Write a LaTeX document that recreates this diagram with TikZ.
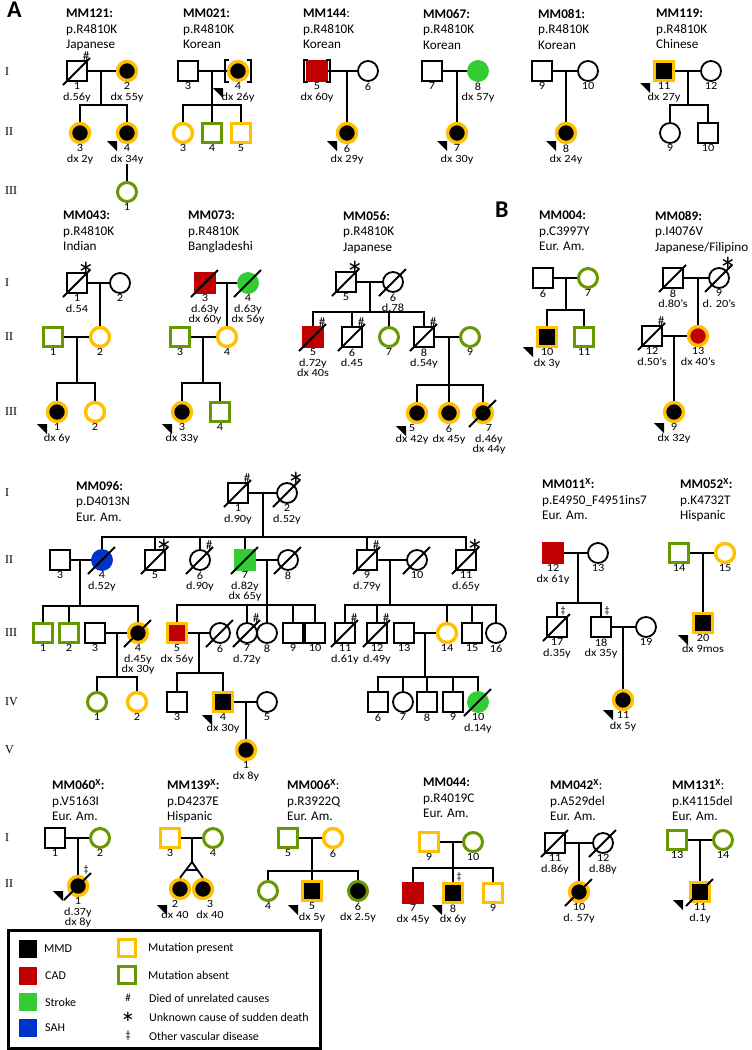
\documentclass[tikz,border=0pt]{standalone}
\usepackage{fontspec}
\setmainfont{Carlito}
\newfontfamily\romfont{Liberation Serif}
\newfontfamily\labfont[FakeStretch=1.12]{Carlito}
\newfontfamily\djv{DejaVu Sans}
\usetikzlibrary{calc}
\definecolor{mutO}{HTML}{FFC000}
\definecolor{mutG}{HTML}{669900}
\definecolor{cadR}{HTML}{C00000}
\definecolor{strG}{HTML}{33CC33}
\definecolor{sahB}{HTML}{0033CC}
\tikzset{
 ind/.style={minimum size=20pt, inner sep=0pt, line width=1.8pt, draw=black, fill=white},
 male/.style={ind, rectangle},
 female/.style={ind, circle},
 mp/.style={draw=mutO, line width=3.4pt, minimum size=19pt},
 ma/.style={draw=mutG, line width=3pt, minimum size=19pt},
 mmd/.style={fill=black},
 cad/.style={fill=cadR, draw=cadR, line width=0.8pt, minimum size=21pt},
 strk/.style={fill=strG, draw=strG, line width=0.8pt, minimum size=21pt},
 sah/.style={fill=sahB, draw=sahB, line width=0.8pt, minimum size=21pt},
 conn/.style={line width=1.8pt},
 lab/.style={font=\labfont\fontsize{11}{10.5}\selectfont, align=center, inner sep=0pt, anchor=north},
 ttl/.style={font=\fontsize{13.2}{15.5}\selectfont, align=left, anchor=north west, inner sep=0pt},
 gen/.style={font=\romfont\fontsize{12}{12}\selectfont, anchor=west, inner sep=0pt},
 symb/.style={font=\fontsize{13}{13}\selectfont, inner sep=0pt},
 ast/.style={font=\djv\fontsize{18}{18}\selectfont, inner sep=0pt},
 big/.style={font=\bfseries\fontsize{24}{24}\selectfont, anchor=north west, inner sep=0pt},
 legt/.style={font=\fontsize{12}{12}\selectfont, anchor=west, inner sep=0pt},
}
\newcommand{\pdead}[1]{\draw[conn] ([shift={(-14,14)}]#1.center) -- ([shift={(13,-13)}]#1.center);}
\newcommand{\psym}[2]{\node[symb] (#1s) at ([shift={(9,-14.5)}]#1.center) {#2};}
\newcommand{\past}[1]{\node[ast] (#1s) at ([shift={(9,-15)}]#1.center) {∗};}
\newcommand{\plab}[2]{\node[lab] (#1l) at ([shift={(0,11.5)}]#1.center) {#2};}
\newcommand{\pprob}[2][-20,8]{\fill ([shift={(#1)}]#2.center) -- ++(10,0) -- ++(0,10) -- cycle;}
\newcommand{\pbrk}[1]{\draw[conn] ([shift={(-9,-11)}]#1.center) -- ++(-4,0) -- ++(0,22) -- ++(4,0); \draw[conn] ([shift={(9,-11)}]#1.center) -- ++(4,0) -- ++(0,22) -- ++(-4,0);}
\begin{document}
\begin{tikzpicture}[x=1pt,y=-1pt]
\useasboundingbox (0,0) rectangle (752,1050);
\fill[white] (0,0) rectangle (752,1050);

\node[big] (lA) at (7,2) {A};
\node[big] (lB) at (495,202) {B};

% ================= Row 1 =================
\node[gen] (r1a) at (5,72) {I};
\node[gen] (r1b) at (5,132) {II};
\node[gen] (r1c) at (5,191) {III};

% MM121
\node[ttl] (T121) at (66,9) {\textbf{MM121:}\\p.R4810K\\Japanese};
\node[male] (a1) at (77,71) {};
\node[female,mp,mmd] (a2) at (127,71) {};
\node[female,mp,mmd] (a3) at (80,133) {};
\node[female,mp,mmd] (a4) at (127,133) {};
\node[female,ma] (a5) at (127,192) {};
\coordinate (am) at (101,71); \coordinate (as) at (101,105);
\draw[conn] (a1) -- (a2);
\draw[conn] (am) -- (as);
\draw[conn] (a3.north) |- (as) -| (a4.north);
\pdead{a1} \psym{a1}{\#}
\plab{a1}{1\\d.56y} \plab{a2}{2\\dx 55y} \plab{a3}{3\\dx 2y} \plab{a4}{4\\dx 34y} \plab{a5}{1}
\draw[conn] (a4l.south) -- (a5.north);
\pprob{a4}

% MM021
\node[ttl] (T021) at (183,9) {\textbf{MM021:}\\p.R4810K\\Korean};
\node[male] (b1) at (188,71) {};
\node[female,mp,mmd] (b2) at (238,71) {};
\node[female,mp] (b3) at (183,133) {};
\node[male,ma] (b4) at (212,133) {};
\node[male,mp] (b5) at (241,133) {};
\coordinate (bm) at (212,71); \coordinate (bs) at (212,105);
\draw[conn] (b1) -- (b2);
\draw[conn] (bm) -- (b4.north);
\draw[conn] (b3.north) |- (bs) -| (b5.north);
\pbrk{b2}
\plab{b1}{3} \plab{b2}{4\\dx 26y} \plab{b3}{3} \plab{b4}{4} \plab{b5}{5}
\pprob[-25,17]{b2}

% MM144
\node[ttl] (T144) at (303,9) {\textbf{MM144}:\\p.R4810K\\Korean};
\node[male,cad] (c1) at (317,71) {};
\node[female] (c2) at (368,71) {};
\node[female,mp,mmd] (c3) at (347,133) {};
\coordinate (cm) at (347,71);
\draw[conn] (c1) -- (c2);
\draw[conn] (cm) -- (c3);
\pbrk{c1}
\plab{c1}{5\\dx 60y} \plab{c2}{6} \plab{c3}{6\\dx 29y}
\pprob{c3}

% MM067
\node[ttl] (T067) at (423,9) {\textbf{MM067:}\\p.R4810K\\Korean};
\node[male] (d1) at (432,71) {};
\node[female,strk] (d2) at (478,71) {};
\node[female,mp,mmd] (d3) at (457,133) {};
\coordinate (dm) at (457,71);
\draw[conn] (d1) -- (d2);
\draw[conn] (dm) -- (d3);
\plab{d1}{7} \plab{d2}{8\\dx 57y} \plab{d3}{7\\dx 30y}
\pprob{d3}

% MM081
\node[ttl] (T081) at (538,9) {\textbf{MM081:}\\p.R4810K\\Korean};
\node[male] (e1) at (542,71) {};
\node[female] (e2) at (588,71) {};
\node[female,mp,mmd] (e3) at (566,133) {};
\coordinate (em) at (566,71);
\draw[conn] (e1) -- (e2);
\draw[conn] (em) -- (e3);
\plab{e1}{9} \plab{e2}{10} \plab{e3}{8\\dx 24y}
\pprob{e3}

% MM119
\node[ttl] (T119) at (656,9) {\textbf{MM119:}\\p.R4810K\\Chinese};
\node[male,mp,mmd] (f1) at (664,71) {};
\node[female] (f2) at (711,71) {};
\node[female] (f3) at (670,133) {};
\node[male] (f4) at (708,133) {};
\coordinate (fm) at (688,71); \coordinate (fs) at (688,105);
\draw[conn] (f1) -- (f2);
\draw[conn] (fm) -- (fs);
\draw[conn] (f3.north) |- (fs) -| (f4.north);
\plab{f1}{11\\dx 27y} \plab{f2}{12} \plab{f3}{9} \plab{f4}{10}
\pprob[-24,12]{f1}

% ================= Row 2 =================
\node[gen] (r2a) at (5,283) {I};
\node[gen] (r2b) at (5,337) {II};
\node[gen] (r2c) at (5,412) {III};

% MM043
\node[ttl] (T043) at (63,211) {\textbf{MM043:}\\p.R4810K\\Indian};
\node[male] (g1) at (77,283) {};
\node[female] (g2) at (120,283) {};
\node[male,ma] (g3) at (53,337) {};
\node[female,mp] (g4) at (100,337) {};
\node[female,mp,mmd] (g5) at (57,412) {};
\node[female,mp] (g6) at (95,412) {};
\coordinate (gm) at (100,283);
\coordinate (gm2) at (77,337); \coordinate (gs) at (77,383);
\draw[conn] (g1) -- (g2);
\draw[conn] (gm) -- (g4);
\draw[conn] (g3) -- (g4);
\draw[conn] (gm2) -- (gs);
\draw[conn] (g5.north) |- (gs) -| (g6.north);
\pdead{g1} \past{g1}
\plab{g1}{1\\d.54} \plab{g2}{2} \plab{g3}{1} \plab{g4}{2} \plab{g5}{1\\dx 6y} \plab{g6}{2}
\pprob[-20,12]{g5}

% MM073
\node[ttl] (T073) at (188,211) {\textbf{MM073:}\\p.R4810K\\Bangladeshi};
\node[male,cad] (h1) at (205,283) {};
\node[female,strk] (h2) at (248,283) {};
\node[male,ma] (h3) at (180,337) {};
\node[female,mp] (h4) at (227,337) {};
\node[female,mp,mmd] (h5) at (182,412) {};
\node[male,ma] (h6) at (220,412) {};
\coordinate (hm) at (227,283);
\coordinate (hm2) at (203,337); \coordinate (hs) at (203,383);
\draw[conn] (h1) -- (h2);
\draw[conn] (hm) -- (h4);
\draw[conn] (h3) -- (h4);
\draw[conn] (hm2) -- (hs);
\draw[conn] (h5.north) |- (hs) -| (h6.north);
\pdead{h1} \pdead{h2}
\plab{h1}{3\\d.63y\\dx 60y} \plab{h2}{4\\d.63y\\dx 56y} \plab{h3}{3} \plab{h4}{4} \plab{h5}{3\\dx 33y} \plab{h6}{4}
\pprob[-20,12]{h5}

% MM056
\node[ttl] (T056) at (343,211) {\textbf{MM056:}\\p.R4810K\\Japanese};
\node[male] (i1) at (346,282) {};
\node[female] (i2) at (393,282) {};
\node[male,cad] (i3) at (313,337) {};
\node[male] (i4) at (352,337) {};
\node[female,ma] (i5) at (389,337) {};
\node[male] (i6) at (424,337) {};
\node[female,ma] (i7) at (470,337) {};
\node[female,mp,mmd] (i8) at (417,413) {};
\node[female,mp,mmd] (i9) at (449,413) {};
\node[female,mp,mmd] (i10) at (483,413) {};
\coordinate (im) at (370,282); \coordinate (is) at (370,312);
\coordinate (im2) at (449,337); \coordinate (is2) at (449,385);
\draw[conn] (i1) -- (i2);
\draw[conn] (im) -- (is);
\draw[conn] (i3.north) |- (is) -| (i6.north);
\draw[conn] (is -| i4) -- (i4.north);
\draw[conn] (is -| i5) -- (i5.north);
\draw[conn] (i6) -- (i7);
\draw[conn] (im2) -- (is2);
\draw[conn] (i8.north) |- (is2) -| (i10.north);
\draw[conn] (is2) -- (i9.north);
\pdead{i1} \past{i1} \pdead{i2}
\pdead{i3} \psym{i3}{\#} \pdead{i4} \psym{i4}{\#} \pdead{i6} \psym{i6}{\#}
\pdead{i10}
\plab{i1}{5} \plab{i2}{6\\d.78} \plab{i3}{5\\d.72y\\dx 40s} \plab{i4}{6\\d.45} \plab{i5}{7} \plab{i6}{8\\d.54y} \plab{i7}{9}
\node[lab] (i8l) at (412,424.5) {5\\dx 42y};
\plab{i9}{6\\dx 45y}
\node[lab] (i10l) at (489,424.5) {7\\d.46y\\dx 44y};
\pprob[-21,13]{i8}

% MM004
\node[ttl] (T004) at (539,211) {\textbf{MM004:}\\p.C3997Y\\Eur. Am.};
\node[male] (j1) at (543,278) {};
\node[female,ma] (j2) at (588,278) {};
\node[male,mp,mmd] (j3) at (547,337) {};
\node[male,ma] (j4) at (584,337) {};
\coordinate (jm) at (566,278); \coordinate (js) at (566,310);
\draw[conn] (j1) -- (j2);
\draw[conn] (jm) -- (js);
\draw[conn] (j3.north) |- (js) -| (j4.north);
\plab{j1}{6} \plab{j2}{7} \plab{j3}{10\\dx 3y} \plab{j4}{11}
\pprob[-24,10]{j3}

% MM089
\node[ttl] (T089) at (655,211) {\textbf{MM089:}\\p.I4076V\\Japanese/Filipino};
\node[male] (k1) at (673,278) {};
\node[female] (k2) at (719,278) {};
\node[male] (k3) at (652,336) {};
\node[female,mp,fill=cadR] (k4) at (698,336) {};
\node[female,mp,mmd] (k5) at (674,412) {};
\coordinate (km) at (698,278); \coordinate (km2) at (674,336);
\draw[conn] (k1) -- (k2);
\draw[conn] (km) -- (k4);
\draw[conn] (k3) -- (k4);
\draw[conn] (km2) -- (k5);
\pdead{k1} \pdead{k2} \past{k2} \pdead{k3} \psym{k3}{\#}
\plab{k1}{8\\d.80’s} \plab{k2}{9\\d. 20’s} \plab{k3}{12\\d.50’s} \plab{k4}{13\\dx 40’s} \plab{k5}{9\\dx 32y}
\pprob[-20,11]{k5}

% ================= Row 3: MM096 =================
\node[gen] (r3a) at (5,493) {I};
\node[gen] (r3b) at (5,560) {II};
\node[gen] (r3c) at (5,633) {III};
\node[gen] (r3d) at (5,702) {IV};
\node[gen] (r3e) at (5,750) {V};

\node[ttl] (T096) at (76,481) {\textbf{MM096:}\\p.D4013N\\Eur. Am.};
\node[male] (n1) at (238,493) {};
\node[female] (n2) at (287,493) {};
\node[male] (n3) at (60,560) {};
\node[female,sah] (n4) at (102,560) {};
\node[male] (n5) at (155,560) {};
\node[female] (n6) at (200,560) {};
\node[male,strk] (n7) at (245,560) {};
\node[female] (n8) at (288,560) {};
\node[male] (n9) at (367,560) {};
\node[female] (n10) at (417,560) {};
\node[male] (n11) at (466,560) {};
\coordinate (nm) at (263,493); \coordinate (ns) at (263,537);
\draw[conn] (n1) -- (n2);
\draw[conn] (nm) -- (ns);
\draw[conn] (n4.north) |- (ns) -| (n11.north);
\draw[conn] (ns -| n5) -- (n5.north);
\draw[conn] (ns -| n6) -- (n6.north);
\draw[conn] (ns -| n7) -- (n7.north);
\draw[conn] (ns -| n9) -- (n9.north);
\draw[conn] (n3) -- (n4);
\draw[conn] (n7) -- (n8);
\draw[conn] (n9) -- (n10);
\pdead{n1} \psym{n1}{\#} \pdead{n2} \past{n2}
\pdead{n4} \pdead{n5} \past{n5} \pdead{n6} \psym{n6}{\#} \pdead{n7} \pdead{n8}
\pdead{n9} \psym{n9}{\#} \pdead{n10} \pdead{n11} \past{n11}
\plab{n1}{1\\d.90y} \plab{n2}{2\\d.52y} \plab{n3}{3} \plab{n4}{4\\d.52y} \plab{n5}{5} \plab{n6}{6\\d.90y}
\plab{n7}{7\\d.82y\\dx 65y} \plab{n8}{8} \plab{n9}{9\\d.79y} \plab{n10}{10} \plab{n11}{11\\d.65y}

% generation III, left branch
\node[male,ma] (o1) at (43,633) {};
\node[male,ma] (o2) at (69,633) {};
\node[male] (o3) at (95,633) {};
\node[female,mp,mmd] (o4) at (138,633) {};
\coordinate (om1) at (80,560); \coordinate (os1) at (80,606);
\draw[conn] (om1) -- (os1);
\draw[conn] (o1.north) |- (os1) -| (o4.north);
\draw[conn] (os1 -| o2) -- (o2.north);
\draw[conn] (o3) -- (o4);
\pdead{o4}
\plab{o1}{1} \plab{o2}{2} \plab{o3}{3} \plab{o4}{4\\d.45y\\dx 30y}
\node[female,ma] (p1) at (97,702) {};
\node[female,mp] (p2) at (137,702) {};
\coordinate (pm1) at (117,633); \coordinate (ps1) at (117,677);
\draw[conn] (pm1) -- (ps1);
\draw[conn] (p1.north) |- (ps1) -| (p2.north);
\plab{p1}{1} \plab{p2}{2}

% generation III, middle branch
\node[male,mp,fill=cadR] (o5) at (177,633) {};
\node[female] (o6) at (220,633) {};
\node[female] (o7) at (247,633) {};
\node[female] (o8) at (267,633) {};
\node[male] (o9) at (293,633) {};
\node[male] (o10) at (315,633) {};
\coordinate (om2) at (267,560); \coordinate (os2) at (267,605);
\draw[conn] (om2) -- (os2);
\draw[conn] (o5.north) |- (os2) -| (o10.north);
\draw[conn] (os2 -| o7) -- (o7.north);
\draw[conn] (os2) -- (o8.north);
\draw[conn] (os2 -| o9) -- (o9.north);
\draw[conn] (o5) -- (o6);
\pdead{o6} \pdead{o7} \psym{o7}{\#}
\plab{o5}{5\\dx 56y} \plab{o6}{6} \plab{o7}{7\\d.72y} \plab{o8}{8} \plab{o9}{9} \plab{o10}{10}
\node[male] (p3) at (177,702) {};
\node[male,mp,mmd] (p4) at (223,702) {};
\node[female] (p5) at (267,702) {};
\coordinate (pm2) at (199,633); \coordinate (ps2) at (199,673);
\draw[conn] (pm2) -- (ps2);
\draw[conn] (p3.north) |- (ps2) -| (p4.north);
\draw[conn] (p4) -- (p5);
\plab{p3}{3} \plab{p4}{4\\dx 30y} \plab{p5}{5}
\pprob[-21,13]{p4}
\node[female,mp,mmd] (q1) at (246,750) {};
\coordinate (qm) at (246,702);
\draw[conn] (qm) -- (q1);
\plab{q1}{1\\dx 8y}

% generation III, right branch
\node[male] (o11) at (345,633) {};
\node[male] (o12) at (377,633) {};
\node[male] (o13) at (404,633) {};
\node[female,mp] (o14) at (447,633) {};
\node[male] (o15) at (472,633) {};
\node[female] (o16) at (496,633) {};
\coordinate (om3) at (390,560); \coordinate (os3) at (390,605);
\draw[conn] (om3) -- (os3);
\draw[conn] (o11.north) |- (os3) -| (o16.north);
\draw[conn] (os3 -| o12) -- (o12.north);
\draw[conn] (os3 -| o14) -- (o14.north);
\draw[conn] (os3 -| o15) -- (o15.north);
\draw[conn] (o13) -- (o14);
\pdead{o11} \psym{o11}{\#} \pdead{o12} \psym{o12}{\#}
\plab{o11}{11\\d.61y} \plab{o12}{12\\d.49y} \plab{o13}{13} \plab{o14}{14} \plab{o15}{15} \plab{o16}{16}
\node[male] (p6) at (378,702) {};
\node[female] (p7) at (403,702) {};
\node[male] (p8) at (427,702) {};
\node[male] (p9) at (453,702) {};
\node[female,strk] (p10) at (478,702) {};
\coordinate (pm3) at (425,633); \coordinate (ps3) at (425,677);
\draw[conn] (pm3) -- (ps3);
\draw[conn] (p6.north) |- (ps3) -| (p10.north);
\draw[conn] (ps3 -| p7) -- (p7.north);
\draw[conn] (ps3 -| p8) -- (p8.north);
\draw[conn] (ps3 -| p9) -- (p9.north);
\pdead{p10}
\plab{p6}{6} \plab{p7}{7} \plab{p8}{8} \plab{p9}{9} \plab{p10}{10\\d.14y}

% MM011
\node[ttl] (T011) at (542,478) {\textbf{MM011\textsuperscript{X}:}\\p.E4950\_F4951ins7\\Eur. Am.};
\node[male,cad] (s1) at (553,553) {};
\node[female] (s2) at (598,553) {};
\node[male] (s3) at (557,627) {};
\node[male] (s4) at (601,627) {};
\node[female] (s5) at (646,627) {};
\node[female,mp,mmd] (s6) at (623,700) {};
\coordinate (sm) at (578,553); \coordinate (ss) at (578,603);
\coordinate (sm2) at (623,627);
\draw[conn] (s1) -- (s2);
\draw[conn] (sm) -- (ss);
\draw[conn] (s3.north) |- (ss) -| (s4.north);
\draw[conn] (s4) -- (s5);
\draw[conn] (sm2) -- (s6);
\pdead{s3}
\node[symb,font=\fontsize{10}{10}\selectfont] (s3s) at ([shift={(6,-16)}]s3.center) {‡};
\node[symb,font=\fontsize{10}{10}\selectfont] (s4s) at ([shift={(6,-16)}]s4.center) {‡};
\plab{s1}{12\\dx 61y} \plab{s2}{13} \plab{s3}{17\\d.35y} \plab{s4}{18\\dx 35y} \plab{s5}{19} \plab{s6}{11\\dx 5y}
\pprob[-20,10]{s6}

% MM052
\node[ttl] (T052) at (680,478) {\textbf{MM052\textsuperscript{X}:}\\p.K4732T\\Hispanic};
\node[male,ma] (t1) at (679,553) {};
\node[female,mp] (t2) at (725,553) {};
\node[male,mp,mmd] (t3) at (703,623) {};
\coordinate (tm) at (703,553);
\draw[conn] (t1) -- (t2);
\draw[conn] (tm) -- (t3);
\plab{t1}{14} \plab{t2}{15} \plab{t3}{20\\dx 9mos}
\pprob[-25,12]{t3}

% ================= Row 4 =================
\node[gen] (r4a) at (5,838) {I};
\node[gen] (r4b) at (5,884) {II};

% MM060
\node[ttl] (T060) at (52,779) {\textbf{MM060\textsuperscript{X}:}\\p.V5163I\\Eur. Am.};
\node[male] (u1) at (55,838) {};
\node[female,ma] (u2) at (100,838) {};
\node[female,mp,mmd] (u3) at (78,886) {};
\coordinate (um) at (78,838);
\draw[conn] (u1) -- (u2);
\draw[conn] (um) -- (u3);
\pdead{u3} \node[symb,font=\fontsize{10}{10}\selectfont] (u3s) at ([shift={(8,-16)}]u3.center) {‡};
\plab{u1}{1} \plab{u2}{2} \plab{u3}{1\\d.37y\\dx 8y}
\pprob[-25,5]{u3}

% MM139
\node[ttl] (T139) at (167,779) {\textbf{MM139\textsuperscript{X}:}\\p.D4237E\\Hispanic};
\node[male,mp] (v1) at (170,838) {};
\node[female,ma] (v2) at (213,838) {};
\node[female,mp,mmd] (v3) at (180,889) {};
\node[female,mp,mmd] (v4) at (203,889) {};
\coordinate (vm) at (192,838); \coordinate (vt) at (192,862);
\draw[conn] (v1) -- (v2);
\draw[conn] (vm) -- (vt);
\draw[conn] (v3.north) -- (vt) -- (v4.north);
\draw[conn] ($(vt)!0.5!(v3.north)$) -- ($(vt)!0.5!(v4.north)$);
\plab{v1}{3} \plab{v2}{4}
\node[lab] (v3l) at (175,900.5) {2\\dx 40};
\node[lab] (v4l) at (210,900.5) {3\\dx 40};
\pprob[-23,16]{v3}

% MM006
\node[ttl] (T006) at (287,779) {\textbf{MM006\textsuperscript{X}}:\\p.R3922Q\\Eur. Am.};
\node[male,ma] (w1) at (288,838) {};
\node[female,mp] (w2) at (333,838) {};
\node[female,ma] (w3) at (268,891) {};
\node[male,mp,mmd] (w4) at (312,891) {};
\node[female,ma,mmd] (w5) at (358,891) {};
\coordinate (wm) at (312,838); \coordinate (ws) at (312,871);
\draw[conn] (w1) -- (w2);
\draw[conn] (wm) -- (w4.north);
\draw[conn] (w3.north) |- (ws) -| (w5.north);
\plab{w1}{5} \plab{w2}{6} \plab{w3}{4} \plab{w4}{5\\dx 5y} \plab{w5}{6\\dx 2.5y}
\pprob[-24,14]{w4}

% MM044
\node[ttl] (T044) at (423,778) {\textbf{MM044:}\\p.R4019C\\Eur. Am.};
\node[male,mp] (x1) at (429,842) {};
\node[female,ma] (x2) at (473,842) {};
\node[male,cad] (x3) at (413,893) {};
\node[male,mp,mmd] (x4) at (453,893) {};
\node[male,mp] (x5) at (493,893) {};
\coordinate (xm) at (453,842); \coordinate (xs) at (453,868);
\draw[conn] (x1) -- (x2);
\draw[conn] (xm) -- (x4.north);
\draw[conn] (x3.north) |- (xs) -| (x5.north);
\node[symb,font=\fontsize{10}{10}\selectfont] (x4s) at ([shift={(6,-16)}]x4.center) {‡};
\plab{x1}{9} \plab{x2}{10} \plab{x3}{7\\dx 45y} \plab{x4}{8\\dx 6y} \plab{x5}{9}
\pprob[-21,12]{x4}

% MM042
\node[ttl] (T042) at (550,779) {\textbf{MM042\textsuperscript{X}}:\\p.A529del\\Eur. Am.};
\node[male] (y1) at (555,843) {};
\node[female] (y2) at (603,843) {};
\node[female,mp,mmd] (y3) at (579,892) {};
\coordinate (ym) at (579,843);
\draw[conn] (y1) -- (y2);
\draw[conn] (ym) -- (y3);
\pdead{y1} \pdead{y2} \pdead{y3}
\plab{y1}{11\\d.86y} \plab{y2}{12\\d.88y} \plab{y3}{10\\d. 57y}

% MM131
\node[ttl] (T131) at (672,779) {\textbf{MM131\textsuperscript{X}}:\\p.K4115del\\Eur. Am.};
\node[male,ma] (z1) at (677,840) {};
\node[female,ma] (z2) at (723,840) {};
\node[male,mp,mmd] (z3) at (700,892) {};
\coordinate (zm) at (700,840);
\draw[conn] (z1) -- (z2);
\draw[conn] (zm) -- (z3);
\pdead{z3}
\plab{z1}{13} \plab{z2}{14} \plab{z3}{11\\d.1y}
\pprob[-27,8]{z3}

% ================= Legend =================
\draw[line width=3pt] (8,930) rectangle (320,1048);
\node[minimum size=18pt, inner sep=0pt, fill=black] (L1) at (28,949) {};
\node[minimum size=18pt, inner sep=0pt, fill=cadR] (L2) at (28,976) {};
\node[minimum size=18pt, inner sep=0pt, fill=strG] (L3) at (28,1002) {};
\node[minimum size=18pt, inner sep=0pt, fill=sahB] (L4) at (28,1028) {};
\node[legt] (L1t) at (44,949) {MMD};
\node[legt] (L2t) at (45,976) {CAD};
\node[legt] (L3t) at (45,1002) {Stroke};
\node[legt] (L4t) at (45,1028) {SAH};
\node[male,mp,minimum size=17pt] (L5) at (127,948) {};
\node[male,ma,minimum size=17pt] (L6) at (127,975) {};
\node[legt] (L5t) at (148,948) {Mutation present};
\node[legt] (L6t) at (148,975) {Mutation absent};
\node[symb,font=\fontsize{11}{11}\selectfont] (L7) at (128,998) {\#};
\node[ast,font=\djv\fontsize{15}{15}\selectfont] (L8) at (128,1017) {∗};
\node[symb,font=\fontsize{11}{11}\selectfont] (L9) at (128,1036) {‡};
\node[legt] (L7t) at (149,998) {Died of unrelated causes};
\node[legt] (L8t) at (149,1017) {Unknown cause of sudden death};
\node[legt] (L9t) at (149,1036) {Other vascular disease};
\end{tikzpicture}
\end{document}
